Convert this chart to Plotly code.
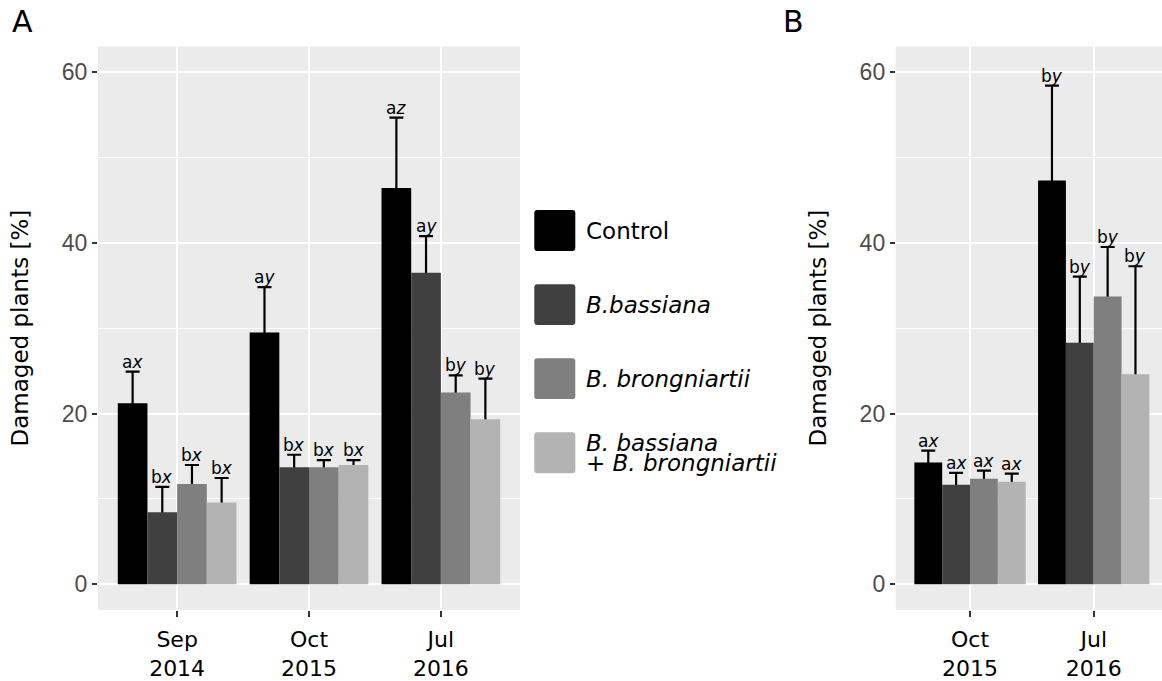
import plotly.graph_objects as go

W, H = 1162, 681

# ---------------- data ----------------
series_names = ["Control", "B.bassiana", "B. brongniartii", "B. bassiana + B. brongniartii"]
legend_lines = [["Control"], ["<i>B.bassiana</i>"], ["<i>B. brongniartii</i>"],
                ["<i>B. bassiana</i>", "<i>+ B. brongniartii</i>"]]
colors = ["#000000", "#404040", "#7F7F7F", "#B3B3B3"]

cats_A = ["Sep<br>2014", "Oct<br>2015", "Jul<br>2016"]
ctrl_A = [21.2, 29.5, 46.4]
bbas_A = [8.45, 13.7, 36.5]
bbro_A = [11.75, 13.7, 22.45]
both_A = [9.57, 13.97, 19.33]
se_ctrl_A = [3.7, 5.3, 8.25]
se_bbas_A = [2.95, 1.47, 4.27]
se_bbro_A = [2.22, 0.85, 2.02]
se_both_A = [2.88, 0.58, 4.75]
let_ctrl_A = ["ax", "ay", "az"]
let_bbas_A = ["bx", "bx", "ay"]
let_bbro_A = ["bx", "bx", "by"]
let_both_A = ["bx", "bx", "by"]

cats_B = ["Oct<br>2015", "Jul<br>2016"]
ctrl_B = [14.26, 47.3]
bbas_B = [11.65, 28.3]
bbro_B = [12.35, 33.7]
both_B = [12.0, 24.6]
se_ctrl_B = [1.4, 11.1]
se_bbas_B = [1.4, 7.73]
se_bbro_B = [0.95, 5.8]
se_both_B = [0.97, 12.65]
let_ctrl_B = ["ax", "by"]
let_bbas_B = ["ax", "by"]
let_bbro_B = ["ax", "by"]
let_both_B = ["ax", "by"]

y_ticks = [0, 20, 40, 60]

panels = [
    dict(cats=cats_A, vals=[ctrl_A, bbas_A, bbro_A, both_A],
         ses=[se_ctrl_A, se_bbas_A, se_bbro_A, se_both_A],
         lets=[let_ctrl_A, let_bbas_A, let_bbro_A, let_both_A], xa="x", ya="y"),
    dict(cats=cats_B, vals=[ctrl_B, bbas_B, bbro_B, both_B],
         ses=[se_ctrl_B, se_bbas_B, se_bbro_B, se_both_B],
         lets=[let_ctrl_B, let_bbas_B, let_bbro_B, let_both_B], xa="x2", ya="y2"),
]

BARGAP = 0.1
n_series = len(series_names)
bar_w = (1 - BARGAP) / n_series

fig = go.Figure()
annotations = []

for p in panels:
    # error bars first (transparent bars), so the opaque bars cover the lower end
    for k in range(n_series):
        fig.add_trace(go.Bar(
            x=p["cats"], y=p["vals"][k], xaxis=p["xa"], yaxis=p["ya"],
            offsetgroup=f"s{k}", marker=dict(color="rgba(0,0,0,0)", line=dict(width=0)),
            error_y=dict(type="data", symmetric=False, array=p["ses"][k],
                         arrayminus=[1.0] * len(p["cats"]),
                         color="black", thickness=2.2, width=7),
            showlegend=False, hoverinfo="skip"))
    for k in range(n_series):
        fig.add_trace(go.Bar(
            x=p["cats"], y=p["vals"][k], xaxis=p["xa"], yaxis=p["ya"],
            offsetgroup=f"s{k}", name=series_names[k],
            marker=dict(color=colors[k], line=dict(width=0)),
            showlegend=False))
    # significance letters
    for k in range(n_series):
        off = -(1 - BARGAP) / 2 + bar_w * (k + 0.5)
        for i, c in enumerate(p["cats"]):
            lt = p["lets"][k][i]
            annotations.append(dict(
                x=i + off, y=p["vals"][k][i] + p["ses"][k][i],
                xref=p["xa"], yref=p["ya"],
                text=f"{lt[0]}<i>{lt[1]}</i>", showarrow=False,
                xanchor="center", yanchor="bottom", yshift=-2,
                font=dict(family="DejaVu Sans", size=17, color="black")))

# ---------------- legend (drawn manually, large keys) ----------------
shapes = []
key_x0, key_size, key_top0, key_step = 534.3, 41, 210.7, 74.3
r = 3
for k in range(n_series):
    x0 = key_x0
    y0 = key_top0 + k * key_step
    x1, y1 = x0 + key_size, y0 + key_size
    px = lambda v: v / W
    py = lambda v: 1 - v / H
    path = (f"M {px(x0 + r)} {py(y0)} L {px(x1 - r)} {py(y0)} Q {px(x1)} {py(y0)} {px(x1)} {py(y0 + r)} "
            f"L {px(x1)} {py(y1 - r)} Q {px(x1)} {py(y1)} {px(x1 - r)} {py(y1)} "
            f"L {px(x0 + r)} {py(y1)} Q {px(x0)} {py(y1)} {px(x0)} {py(y1 - r)} "
            f"L {px(x0)} {py(y0 + r)} Q {px(x0)} {py(y0)} {px(x0 + r)} {py(y0)} Z")
    shapes.append(dict(type="path", path=path, xref="paper", yref="paper",
                       fillcolor=colors[k], line=dict(width=0), layer="above"))
    lines = legend_lines[k]
    yc = y0 + key_size / 2
    nl = len(lines)
    line_h = 20
    for j, txt in enumerate(lines):
        yy = yc + (j - (nl - 1) / 2) * line_h
        annotations.append(dict(
            x=583.7 / W, y=1 - yy / H, xref="paper", yref="paper",
            text=txt, showarrow=False, xanchor="left", yanchor="middle",
            font=dict(family="DejaVu Sans", size=23, color="black")))

# panel letters
annotations.append(dict(x=10 / W, y=1 - 2 / H, xref="paper", yref="paper", text="A",
                        showarrow=False, xanchor="left", yanchor="top",
                        font=dict(family="DejaVu Sans", size=30, color="black")))
annotations.append(dict(x=781 / W, y=1 - 2 / H, xref="paper", yref="paper", text="B",
                        showarrow=False, xanchor="left", yanchor="top",
                        font=dict(family="DejaVu Sans", size=30, color="black")))

y_dom = [1 - 611.7 / H, 1 - 46.5 / H]

def xaxis_style(domain, rng, cats):
    return dict(domain=domain, type="category", categoryorder="array", categoryarray=cats,
                range=rng, showgrid=True, gridcolor="white", gridwidth=2,
                ticks="outside", ticklen=6, tickwidth=2, tickcolor="#333333",
                ticklabelstandoff=4,
                tickfont=dict(family="DejaVu Sans", size=22, color="black"),
                zeroline=False, showline=False, fixedrange=True)

def yaxis_style(anchor):
    return dict(domain=y_dom, anchor=anchor, range=[-3, 63], tickvals=y_ticks,
                showgrid=True, gridcolor="white", gridwidth=2,
                minor=dict(tickmode="linear", tick0=10, dtick=20, showgrid=True,
                           gridcolor="white", gridwidth=1.2, ticks=""),
                ticks="outside", ticklen=5, tickwidth=2, tickcolor="#333333",
                tickfont=dict(family="Liberation Sans", size=23, color="#4D4D4D"),
                zeroline=False, showline=False,
                title=dict(text="Damaged plants [%]", standoff=26,
                           font=dict(family="DejaVu Sans", size=23, color="black")))

fig.update_layout(
    width=W, height=H, margin=dict(l=0, r=0, t=0, b=0),
    paper_bgcolor="white", plot_bgcolor="#EBEBEB",
    barmode="group", bargap=BARGAP, bargroupgap=0,
    showlegend=False,
    xaxis=xaxis_style([98 / W, 520 / W], [-0.6, len(cats_A) - 0.4], cats_A),
    yaxis=yaxis_style("x"),
    xaxis2=dict(xaxis_style([895.8 / W, 1.0], [-0.6, -0.6 + (W - 895.8) / 123.7], cats_B), anchor="y2"),
    yaxis2=yaxis_style("x2"),
    annotations=annotations, shapes=shapes,
)

fig.write_html("out.html", config={"displayModeBar": False},
               post_script="document.body.style.margin='0px';document.body.style.overflow='hidden';")
